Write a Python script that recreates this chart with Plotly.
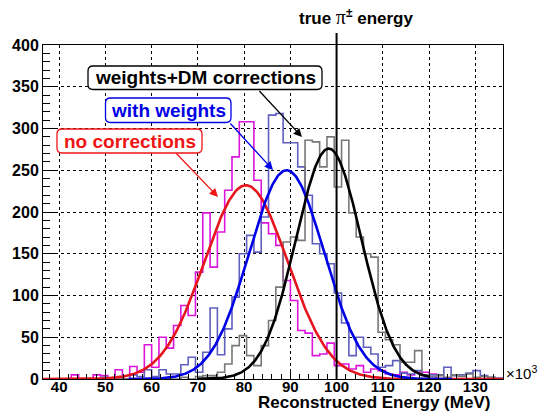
import numpy as np
import plotly.graph_objects as go

# ---------------- data ----------------
bin_start = 36.3
bin_width = 1.58
no_corr = [0, 0, 0, 0, 5, 0, 0, 5, 4, 0,
           11, 0, 15, 8, 41, 14, 50, 37, 64, 88,
           76, 128, 199, 134, 176, 226, 266, 308, 308, 238,
           187, 174, 160, 118, 94, 58, 55, 28, 30, 43,
           16, 18, 12, 16, 8, 12, 10, 6, 5, 8,
           5, 8, 8, 6, 0, 0, 0, 0, 0, 0,
           0, 0, 0, 0]
with_w = [0, 0, 0, 0, 0, 0, 0, 0, 2, 0,
          0, 0, 5, 3, 11, 3, 11, 6, 6, 17,
          26, 8, 32, 85, 29, 60, 98, 150, 172, 152,
          194, 316, 318, 283, 283, 254, 220, 162, 150, 138,
          103, 67, 28, 50, 38, 30, 14, 16, 22, 7,
          6, 10, 4, 5, 5, 14, 4, 5, 7, 10,
          4, 2, 1, 0]
w_dm = [0, 0, 0, 0, 0, 0, 0, 0, 0, 0,
        0, 0, 0, 0, 0, 0, 0, 0, 0, 2,
        0, 3, 4, 4, 8, 18, 40, 52, 28, 16,
        40, 70, 110, 164, 170, 166, 286, 284, 254, 290,
        230, 286, 199, 170, 150, 146, 56, 47, 41, 20,
        20, 34, 5, 3, 4, 2, 5, 3, 6, 2,
        3, 2, 0, 0]
# gaussian fits: amplitude, mean, sigma, range
fit_red = [232, 80.4, 9.0, 36.5, 136.0]
fit_blue = [250, 89.2, 8.1, 55.0, 125.0]
fit_black = [276, 98.3, 7.1, 70.0, 120.0]
x_ticks = [40, 50, 60, 70, 80, 90, 100, 110, 120, 130]
y_ticks = [0, 50, 100, 150, 200, 250, 300, 350, 400]
true_energy = 100

# ---------------- geometry helpers ----------------
W, H = 544, 411
L, R, T, B = 43, 41, 45, 32
X0, X1 = 36.5, 136.0
pw, ph = W - L - R, H - T - B

def dx(p):
    return X0 + (p - L) / pw * (X1 - X0)

def dy(q):
    return (H - B - q) / ph * 400.0

def px_(p):
    return (p - L) / pw

def py_(q):
    return (H - B - q) / ph

fig = go.Figure()

def hist_trace(vals, color):
    n = len(vals)
    edges = [bin_start + bin_width * k for k in range(n + 1)]
    xs = [edges[0]] + edges
    ys = [0] + list(vals) + [vals[-1]]
    return go.Scatter(x=xs, y=ys, mode="lines", line=dict(color=color, width=1.6, shape="hv"),
                      hoverinfo="skip", showlegend=False)

fig.add_trace(hist_trace(no_corr, "rgb(220,20,220)"))
fig.add_trace(hist_trace(with_w, "rgb(95,95,190)"))
fig.add_trace(hist_trace(w_dm, "rgb(120,120,120)"))

def gaus_trace(p, color):
    a, m, s, lo, hi = p
    xs = np.linspace(lo, hi, 400)
    ys = a * np.exp(-0.5 * ((xs - m) / s) ** 2)
    return go.Scatter(x=xs, y=ys, mode="lines", line=dict(color=color, width=2.6),
                      hoverinfo="skip", showlegend=False)

fig.add_trace(gaus_trace(fit_red, "rgb(230,20,30)"))
fig.add_trace(gaus_trace(fit_blue, "rgb(0,0,230)"))
fig.add_trace(gaus_trace(fit_black, "black"))

shapes = []
# vertical line at true energy
shapes.append(dict(type="line", xref="x", yref="paper", x0=true_energy, x1=true_energy,
                   y0=0, y1=py_(33), line=dict(color="black", width=2)))

def rbox(x0p, y0p, x1p, y1p, color, r=5):
    rx = r / pw
    ry = r / ph
    a, b, c, d = px_(x0p), py_(y1p), px_(x1p), py_(y0p)  # left, bottom, right, top
    path = (f"M {a+rx},{b} L {c-rx},{b} Q {c},{b} {c},{b+ry} L {c},{d-ry} Q {c},{d} {c-rx},{d} "
            f"L {a+rx},{d} Q {a},{d} {a},{d-ry} L {a},{b+ry} Q {a},{b} {a+rx},{b} Z")
    return dict(type="path", xref="paper", yref="paper", path=path,
                line=dict(color=color, width=1.3), fillcolor="white", layer="above")

boxes = [
    (88, 66, 322, 89.5, "black", "weights+DM corrections"),
    (105.5, 98, 231, 122.5, "rgb(0,0,230)", "with weights"),
    (57, 129, 202, 153, "rgb(240,20,20)", "no corrections"),
]
annotations = []
for (x0p, y0p, x1p, y1p, col, txt) in boxes:
    shapes.append(rbox(x0p, y0p, x1p, y1p, col))
    annotations.append(dict(xref="paper", yref="paper", x=px_((x0p + x1p) / 2), y=py_((y0p + y1p) / 2),
                            text=txt, showarrow=False, xanchor="center", yanchor="middle",
                            font=dict(family="Liberation Sans", size=19, color=col, weight="bold")))

arrows = [
    ((258, 89.5), (302, 137), "black"),
    ((229, 122), (273, 170), "rgb(0,0,230)"),
    ((175, 152), (218, 197), "rgb(240,20,20)"),
]
for (t, h, col) in arrows:
    annotations.append(dict(xref="x", yref="y", axref="x", ayref="y",
                            x=dx(h[0]), y=dy(h[1]), ax=dx(t[0]), ay=dy(t[1]),
                            text="", showarrow=True, arrowhead=2, arrowsize=1.3,
                            arrowwidth=1.3, arrowcolor=col))

annotations.append(dict(xref="paper", yref="paper", x=px_(297), y=py_(17),
                        text='true <span style="font-family:Liberation Serif;font-weight:normal;font-size:20px">π</span><sup>±</sup> energy',
                        showarrow=False, xanchor="left", yanchor="middle",
                        font=dict(family="Liberation Sans", size=17, color="black", weight="bold")))
annotations.append(dict(xref="paper", yref="paper", x=px_(492), y=py_(403),
                        text="Reconstructed Energy (MeV)", showarrow=False,
                        xanchor="right", yanchor="middle",
                        font=dict(family="Liberation Sans", size=17, color="black", weight="bold")))
annotations.append(dict(xref="paper", yref="paper", x=px_(504), y=py_(372),
                        text="×10<sup>3</sup>", showarrow=False,
                        xanchor="left", yanchor="middle",
                        font=dict(family="Liberation Sans", size=15, color="black")))

fig.update_layout(
    width=W, height=H, margin=dict(l=L, r=R, t=T, b=B),
    paper_bgcolor="white", plot_bgcolor="white",
    shapes=shapes, annotations=annotations, showlegend=False,
    xaxis=dict(range=[X0, X1], tickvals=x_ticks, ticks="inside", ticklen=9, tickwidth=1,
               tickcolor="black", showline=True, linecolor="black", linewidth=1, mirror=True,
               showgrid=True, gridcolor="black", griddash="dot", gridwidth=1, zeroline=False,
               ticklabelstandoff=-6,
               minor=dict(dtick=2, tick0=40, ticks="inside", ticklen=5, tickcolor="black", showgrid=False),
               tickfont=dict(family="Liberation Sans", size=15, color="black", weight="bold")),
    yaxis=dict(range=[0, 400], tickvals=y_ticks, ticks="inside", ticklen=13, tickwidth=1,
               tickcolor="black", showline=True, linecolor="black", linewidth=1, mirror=True,
               showgrid=True, gridcolor="black", griddash="dot", gridwidth=1, zeroline=False,
               minor=dict(dtick=10, ticks="inside", ticklen=7, tickcolor="black", showgrid=False),
               tickfont=dict(family="Liberation Sans", size=16, color="black", weight="bold")),
)

fig.write_html("out.html")
